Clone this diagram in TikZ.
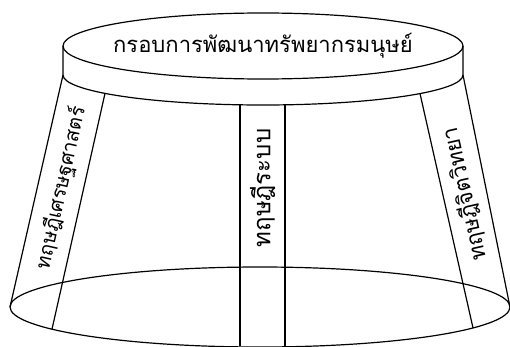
\documentclass[tikz,border=0pt]{standalone}
\usepackage{fontspec}
\newfontfamily\thaifont[Script=Thai]{Loma}
\begin{document}
\begin{tikzpicture}[x=1pt,y=1pt,
  edge/.style={line width=1.2pt,black},
  title/.style={font=\thaifont\fontsize{22}{25}\selectfont,inner sep=0pt},
  striptext/.style={font=\thaifont\fontsize{20}{23}\selectfont,inner sep=0pt},
  midstriptext/.style={font=\thaifont\fontsize{22}{25}\selectfont,inner sep=0pt},
  bigstriptext/.style={font=\thaifont\fontsize{24}{27}\selectfont,inner sep=0pt}]
\useasboundingbox (0,0) rectangle (510,346);
% key points
\coordinate (tl) at (63,300);
\coordinate (tr) at (463,300);
\coordinate (bl) at (63,271);
\coordinate (br) at (463,271);
\coordinate (fl) at (10,39);
\coordinate (fr) at (510,39);
\coordinate (li1) at (105,252.6);
\coordinate (li2) at (52,16.8);
\coordinate (m1a) at (240,241.2);
\coordinate (m1b) at (240,0);
\coordinate (m2a) at (285,241.2);
\coordinate (m2b) at (285,0);
\coordinate (ri1) at (420,252.4);
\coordinate (ri2) at (473,18.1);
% top ellipse and band
\draw[edge] (263,300) ellipse[x radius=200,y radius=33];
\draw[edge] (tl) -- (bl) arc[start angle=180,end angle=360,x radius=200,y radius=30] -- (tr);
% frustum sides
\draw[edge] (bl) -- (fl);
\draw[edge] (br) -- (fr);
% bottom ellipse
\draw[edge] (260,39) ellipse[x radius=250,y radius=40];
% strips
\draw[edge] (li1) -- (li2);
\draw[edge] (m1a) -- (m1b);
\draw[edge] (m2a) -- (m2b);
\draw[edge] (ri1) -- (ri2);
% texts
\node[title] (ttl) at (263,300) {กรอบการพัฒนาทรัพยากรมนุษย์};
\node[striptext,rotate=77.4] (econ) at (61,158) {ทฤษฎีเศรษฐศาสตร์};
\node[bigstriptext,rotate=90] (sys) at (262.5,158) {ทฤษฎีระบบ};
\node[midstriptext,rotate=102.7] (psy) at (465,152) {ทฤษฎีจิตวิทยา};
\end{tikzpicture}
\end{document}
